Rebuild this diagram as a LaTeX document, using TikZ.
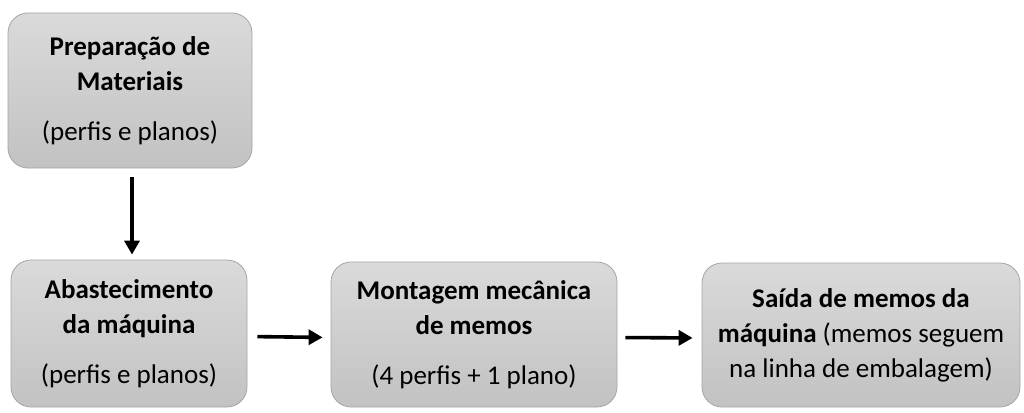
\documentclass[tikz,border=0pt]{standalone}
\usepackage{fontspec}
\setmainfont{Carlito}
\usetikzlibrary{arrows.meta}
\definecolor{boxtop}{RGB}{218,218,218}
\definecolor{boxbot}{RGB}{194,194,194}
\definecolor{boxline}{RGB}{165,165,165}
\tikzset{
  stepbox/.style={draw=boxline, line width=0.8pt, rounded corners=20pt,
    top color=boxtop, bottom color=boxbot, align=center,
    font=\fontsize{27pt}{35pt}\selectfont, inner sep=0pt},
  arr/.style={line width=3.6pt, -{Triangle[length=14pt,width=15pt]}}
}
\begin{document}
\begin{tikzpicture}[x=1pt,y=-1pt]
\useasboundingbox (0,0) rectangle (1024,412);
\node[stepbox, minimum width=244pt, minimum height=155pt] (b1) at (130,90.5)
  {\textbf{Preparação de}\\\textbf{Materiais}\\[15pt](perfis e planos)};
\node[stepbox, minimum width=236pt, minimum height=147pt] (b2) at (129,333.5)
  {\textbf{Abastecimento}\\\textbf{da máquina}\\[15pt](perfis e planos)};
\node[stepbox, minimum width=286pt, minimum height=145pt] (b3) at (474,334.5)
  {\textbf{Montagem mecânica}\\\textbf{de memos}\\[15pt](4 perfis + 1 plano)};
\node[stepbox, minimum width=318pt, minimum height=144pt] (b4) at (861,335)
  {\textbf{Saída de memos da}\\\textbf{máquina} (memos seguem\\na linha de embalagem)};
\draw[arr, shorten <=9pt, shorten >=5pt] ([xshift=2pt]b1.south) -- ([xshift=3pt]b2.north);
\draw[arr, shorten <=10pt, shorten >=8pt] ([yshift=-3pt]b2.east) -- ([yshift=-3pt]b3.west);
\draw[arr, shorten <=8pt, shorten >=9pt] ([yshift=-3pt]b3.east) -- ([yshift=-3pt]b4.west);
\end{tikzpicture}
\end{document}
